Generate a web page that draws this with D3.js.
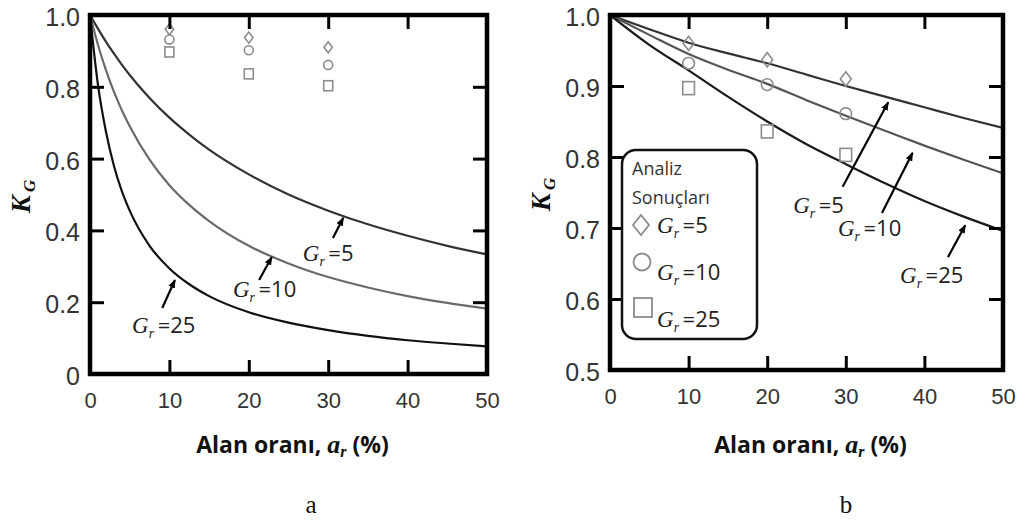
<!DOCTYPE html>
<html><head><meta charset="utf-8">
<script src="https://cdn.jsdelivr.net/npm/d3@7"></script>
<style>body{margin:0;background:#fff}</style>
</head><body><svg id="c" width="1030" height="520"></svg>
<script>
// ---------- data ----------
const xTicks = [0, 10, 20, 30, 40, 50];
const yTicksA = [0, 0.2, 0.4, 0.6, 0.8, 1.0];
const yTicksB = [0.5, 0.6, 0.7, 0.8, 0.9, 1.0];
const grValues = ["5", "10", "25"];

// panel a theoretical curves
const xCurveA = [0, 1, 2, 3, 4, 5, 7.5, 10, 12.5, 15, 20, 25, 30, 35, 40, 45, 50];
const kgA5  = [1, .962, .926, .893, .862, .833, .769, .714, .667, .625, .556, .500, .455, .417, .385, .357, .333];
const kgA10 = [1, .917, .847, .787, .735, .690, .597, .526, .471, .426, .357, .308, .270, .241, .217, .198, .182];
const kgA25 = [1, .806, .676, .581, .510, .455, .357, .294, .250, .217, .172, .143, .122, .106, .094, .085, .077];

// panel b curves
const xCurveB = [0, 5, 10, 15, 20, 25, 30, 35, 40, 45, 50];
const kgB5  = [1, .980, .961, .946, .932, .916, .900, .885, .870, .855, .841];
const kgB10 = [1, .972, .945, .923, .903, .880, .858, .837, .816, .796, .777];
const kgB25 = [1, .958, .922, .885, .850, .818, .790, .763, .738, .716, .696];

// analysis results (points)
const ptX = [10, 20, 30];
const ptDiamond = [0.960, 0.937, 0.910];
const ptCircle  = [0.932, 0.902, 0.861];
const ptSquare  = [0.897, 0.836, 0.803];

// annotation anchors (data units): [tailX, tailY, tipX, tipY, labelX, labelY]
const annA = [[30.6, .379, 31.9, .435, 26.8, .315], [21.3, .262, 22.9, .326, 18.0, .214], [9.1, .184, 10.7, .262, 5.3, .114]];
const annB = [[29.6, .758, 35.4, .877, 23.3, .721], [34.6, .721, 38.5, .806, 29.0, .689], [43.0, .659, 45.2, .704, 36.9, .623]];

// ---------- drawing ----------
const svg = d3.select("#c");
const defs = svg.append("defs");
defs.append("marker").attr("id", "ah").attr("viewBox", "0 0 10 10")
  .attr("refX", 9).attr("refY", 5).attr("markerWidth", 4).attr("markerHeight", 4)
  .attr("orient", "auto").attr("markerUnits", "strokeWidth")
  .append("path").attr("d", "M0,1 L10,5 L0,9 Z").attr("fill", "#000");

const SANS = "'Open Sans', Lato, sans-serif";
const SERIF = "'Liberation Serif', 'DejaVu Serif', serif";

function grText(g, x, y, val, size) {
  const t = g.append("text").attr("x", x).attr("y", y).attr("fill", "#222");
  t.append("tspan").attr("font-family", SERIF).attr("font-style", "italic").attr("font-size", size + 1).text("G");
  t.append("tspan").attr("font-family", SERIF).attr("font-style", "italic").attr("font-size", size * 0.62).attr("dy", size * 0.22).text("r");
  t.append("tspan").attr("font-family", SANS).attr("font-size", size).attr("dy", -size * 0.22).text("\u2009=" + val);
}

function panel(opts) {
  const {x0, x1, y0, y1, yDomain, yTicks, curves, colors, ann, mSize, label, cap} = opts;
  const x = d3.scaleLinear().domain([0, 50]).range([x0, x1]);
  const y = d3.scaleLinear().domain(yDomain).range([y1, y0]);
  const g = svg.append("g");
  const clipId = "clip" + label;
  defs.append("clipPath").attr("id", clipId).append("rect")
    .attr("x", x0).attr("y", y0).attr("width", x1 - x0).attr("height", y1 - y0);

  // curves
  const line = d3.line().x(d => x(d[0])).y(d => y(d[1])).curve(d3.curveMonotoneX);
  curves.forEach((c, i) => {
    g.append("path").datum(c.x.map((v, k) => [v, c.y[k]]))
      .attr("d", line).attr("fill", "none").attr("stroke", colors[i])
      .attr("stroke-width", 2.2).attr("clip-path", `url(#${clipId})`);
  });

  // points
  const mk = g.append("g").attr("fill", "none").attr("stroke", "#8c8c8c").attr("stroke-width", 1.6);
  const s = mSize;
  ptX.forEach((v, k) => {
    const cx = x(v);
    let cy = y(ptDiamond[k]);
    mk.append("path").attr("d", `M${cx},${cy - s * 0.55} L${cx + s * 0.42},${cy} L${cx},${cy + s * 0.55} L${cx - s * 0.42},${cy} Z`);
    cy = y(ptCircle[k]);
    mk.append("circle").attr("cx", cx).attr("cy", cy).attr("r", s * 0.45);
    cy = y(ptSquare[k]);
    mk.append("rect").attr("x", cx - s * 0.45).attr("y", cy - s * 0.5).attr("width", s * 0.9).attr("height", s);
  });

  // axes (inward ticks)
  const ax = g.append("g").attr("font-family", SANS);
  const bottom = ax.append("g").attr("transform", `translate(0,${y1})`)
    .call(d3.axisBottom(x).tickValues(xTicks).tickSize(-14).tickPadding(18).tickFormat(d3.format("d")));
  bottom.selectAll("text").attr("font-size", 22).attr("fill", "#333").attr("dy", "0.71em");
  ax.append("g").attr("transform", `translate(0,${y0})`)
    .call(d3.axisTop(x).tickValues(xTicks).tickSize(-14).tickFormat(""));
  const left = ax.append("g").attr("transform", `translate(${x0},0)`)
    .call(d3.axisLeft(y).tickValues(yTicks).tickSize(-14).tickPadding(10)
      .tickFormat(d => d === 0 ? "0" : d3.format(".1f")(d)));
  left.selectAll("text").attr("font-size", 25).attr("fill", "#333").attr("dy", "0.42em");
  ax.append("g").attr("transform", `translate(${x1},0)`)
    .call(d3.axisRight(y).tickValues(yTicks).tickSize(-14).tickFormat(""));
  ax.selectAll(".domain").remove();
  ax.selectAll(".tick line").attr("stroke", "#000").attr("stroke-width", 3);

  // frame
  g.append("rect").attr("x", x0).attr("y", y0).attr("width", x1 - x0).attr("height", y1 - y0)
    .attr("fill", "none").attr("stroke", "#000").attr("stroke-width", 4.5);

  // annotations
  ann.forEach((a, i) => {
    g.append("line").attr("x1", x(a[0])).attr("y1", y(a[1])).attr("x2", x(a[2])).attr("y2", y(a[3]))
      .attr("stroke", "#000").attr("stroke-width", 2.2).attr("marker-end", "url(#ah)");
    grText(g, x(a[4]), y(a[5]), grValues[i], 22);
  });

  // y title
  const yt = g.append("text").attr("transform", `translate(${x0 - 60},${(y0 + y1) / 2 + 2}) rotate(-90)`)
    .attr("text-anchor", "middle").attr("font-family", SERIF).attr("font-weight", "bold").attr("font-style", "italic").attr("fill", "#111");
  yt.append("tspan").attr("font-size", 27).text("K");
  yt.append("tspan").attr("font-size", 17).attr("dy", 5).text("\u2009G");

  // x title
  const xt = g.append("text").attr("x", (x0 + x1) / 2 + 4).attr("y", 453).attr("text-anchor", "middle")
    .attr("font-weight", "bold").attr("fill", "#111");
  xt.append("tspan").attr("font-family", SANS).attr("font-size", 23).text("Alan oranı, ");
  xt.append("tspan").attr("font-family", SERIF).attr("font-style", "italic").attr("font-size", 26).text("a");
  xt.append("tspan").attr("font-family", SERIF).attr("font-style", "italic").attr("font-size", 16).attr("dy", 4).text("r");
  xt.append("tspan").attr("font-family", SANS).attr("font-size", 23).attr("dy", -4).text(" (%)");

  // caption
  svg.append("text").attr("x", cap).attr("y", 513).attr("text-anchor", "middle")
    .attr("font-family", SERIF).attr("font-size", 25).attr("fill", "#111").text(label);
  return {x, y, g};
}

panel({x0: 90, x1: 487, y0: 15, y1: 374, yDomain: [0, 1], yTicks: yTicksA,
  curves: [{x: xCurveA, y: kgA5}, {x: xCurveA, y: kgA10}, {x: xCurveA, y: kgA25}],
  colors: ["#333", "#6a6a6a", "#111"], ann: annA, mSize: 10, label: "a", cap: 311});

panel({x0: 610, x1: 1003, y0: 15, y1: 370, yDomain: [0.5, 1], yTicks: yTicksB,
  curves: [{x: xCurveB, y: kgB5}, {x: xCurveB, y: kgB10}, {x: xCurveB, y: kgB25}],
  colors: ["#333", "#555", "#1a1a1a"], ann: annB, mSize: 13, label: "b", cap: 846});

// legend (panel b)
const lg = svg.append("g");
lg.append("rect").attr("x", 622).attr("y", 150).attr("width", 135).attr("height", 189).attr("rx", 14)
  .attr("fill", "#fff").attr("stroke", "#111").attr("stroke-width", 2.5);
lg.append("text").attr("x", 632).attr("y", 175).attr("font-family", SANS).attr("font-size", 18).attr("fill", "#333").text("Analiz");
lg.append("text").attr("x", 632).attr("y", 204).attr("font-family", SANS).attr("font-size", 18).attr("fill", "#333").text("Sonuçları");
const lm = lg.append("g").attr("fill", "none").attr("stroke", "#8c8c8c").attr("stroke-width", 1.8);
lm.append("path").attr("d", "M641,215 L649,225 L641,235 L633,225 Z");
lm.append("circle").attr("cx", 642).attr("cy", 262).attr("r", 8.5);
lm.append("rect").attr("x", 634).attr("y", 298).attr("width", 18).attr("height", 19);
grText(lg, 657, 233, grValues[0], 22);
grText(lg, 657, 280, grValues[1], 22);
grText(lg, 657, 327, grValues[2], 22);
</script></body></html>
